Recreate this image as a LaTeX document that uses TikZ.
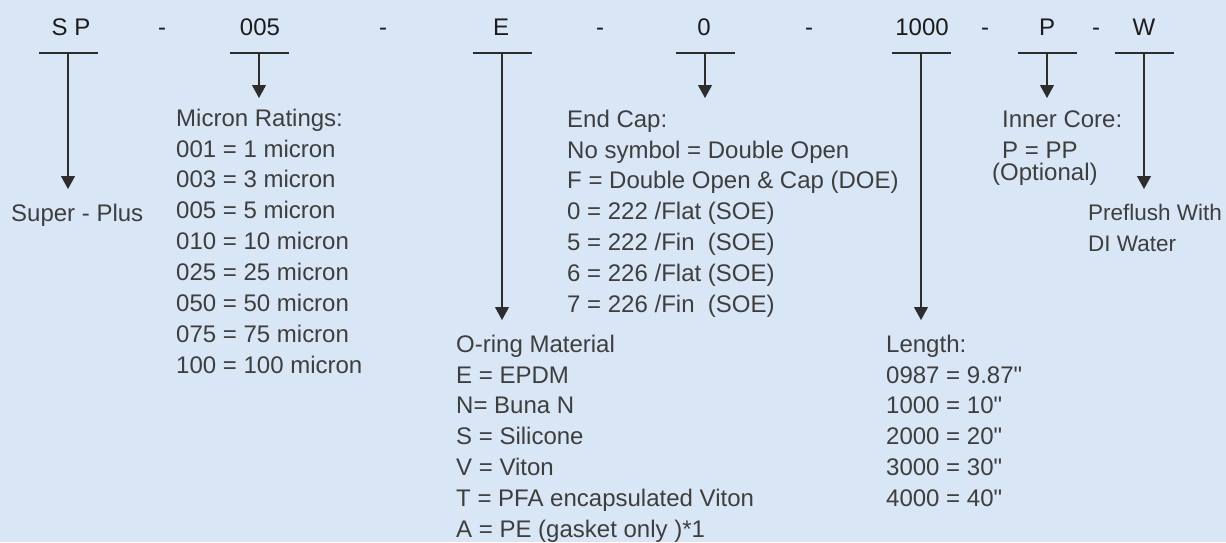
\documentclass[tikz,border=0pt]{standalone}
\usepackage{fontspec}
\setmainfont{Liberation Sans}[Ligatures=TeXOff]
\usetikzlibrary{arrows.meta,calc}
\definecolor{bg}{RGB}{217,230,245}
\definecolor{txt}{RGB}{62,62,62}
\definecolor{hdr}{RGB}{28,28,28}
\definecolor{ln}{RGB}{45,45,45}
\begin{document}
\begin{tikzpicture}[x=1pt,y=-1pt,
  code/.style={anchor=base,inner sep=0pt,font=\fontsize{24}{28}\selectfont,text=hdr},
  hyph/.style={anchor=base,inner sep=0pt,font=\fontsize{24}{28}\selectfont,text=hdr},
  blk/.style={anchor=north west,inner sep=0pt,align=left,font=\fontsize{24}{30.9}\selectfont,text=txt},
  one/.style={anchor=base west,inner sep=0pt,font=\fontsize{24}{30.9}\selectfont,text=txt},
  bar/.style={draw=ln,line width=1.1pt},
  conn/.style={draw=ln,line width=1.1pt,-{Triangle[width=14pt,length=13pt]}}]
\fill[bg] (0,0) rectangle (1226,542);
\useasboundingbox (0,0) rectangle (1226,542);
% header codes
\node[code] (csp) at (71,35) {S P};
\node[code] (c005) at (260,35) {005};
\node[code] (ce) at (501,35) {E};
\node[code] (c0) at (704,35) {0};
\node[code] (c1000) at (922,35) {1000};
\node[code] (cp) at (1047,35) {P};
\node[code] (cw) at (1144,35) {W};
\node[hyph] (h1) at (162,35) {-};
\node[hyph] (h2) at (383,35) {-};
\node[hyph] (h3) at (600,35) {-};
\node[hyph] (h4) at (809,35) {-};
\node[hyph] (h5) at (985,35) {-};
\node[hyph] (h6) at (1096,35) {-};
% bar centres and arrow tips
\coordinate (bsp) at (68,53);     \coordinate (tsp) at (68,189);
\coordinate (b005) at (259,53);   \coordinate (t005) at (259,98);
\coordinate (be) at (502,53);     \coordinate (te) at (502,320);
\coordinate (b0) at (705,53);     \coordinate (t0) at (705,98);
\coordinate (b1000) at (921,53);  \coordinate (t1000) at (921,320);
\coordinate (bp) at (1047,53);    \coordinate (tp) at (1047,98);
\coordinate (bw) at (1144,53);    \coordinate (tw) at (1144,189);
\foreach \n in {sp,005,e,0,1000,p,w}{
  \draw[bar] ($(b\n)+(-29.5,0)$) -- ($(b\n)+(29.5,0)$);
  \draw[conn] (b\n) -- (t\n);
}
% texts
\node[one] (super) at (11,221) {Super - Plus};
\node[blk] (micron) at (176,104.3) {\strut Micron Ratings:\\001 = 1 micron\\003 = 3 micron\\005 = 5 micron\\010 = 10 micron\\025 = 25 micron\\050 = 50 micron\\075 = 75 micron\\100 = 100 micron};
\node[blk] (endcap) at (567,105.3) {\strut End Cap:\\No symbol = Double Open\\F = Double Open \& Cap (DOE)\\0 = 222 /Flat (SOE)\\5 = 222 \rlap{/Fin}\phantom{/Flat} (SOE)\\6 = 226 /Flat (SOE)\\7 = 226 \rlap{/Fin}\phantom{/Flat} (SOE)};
\node[blk] (oring) at (456,330.3) {\strut O-ring Material\\E = EPDM\\N= Buna N\\S = Silicone\\V = Viton\\T = PFA encapsulated Viton\\A = PE (gasket only )*1};
\node[blk] (length) at (886,330.3) {\strut Length:\\0987 = 9.87"\\1000 = 10"\\2000 = 20"\\3000 = 30"\\4000 = 40"};
\node[blk] (core) at (1002,105.3) {\strut Inner Core:\\P = PP};
\node[one] (opt) at (992,180) {(Optional)};
\node[blk,font=\fontsize{22.5}{30.9}\selectfont] (flush) at (1088,198.8) {\strut Preflush With\\DI Water};
\end{tikzpicture}
\end{document}
